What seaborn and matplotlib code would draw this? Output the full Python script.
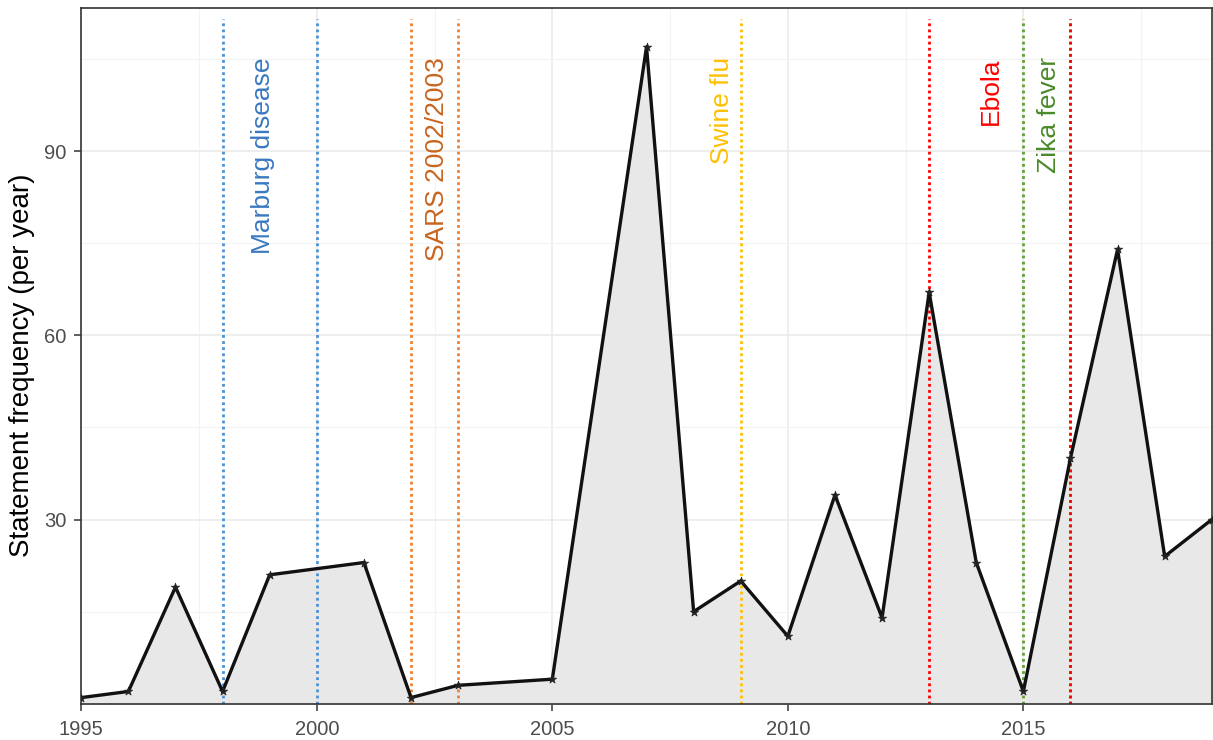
import matplotlib
matplotlib.use("Agg")
import matplotlib.pyplot as plt
import seaborn as sns
import pandas as pd
from matplotlib.ticker import MultipleLocator

years = [1995, 1996, 1997, 1998, 1999, 2001, 2002, 2003, 2005, 2007, 2008,
         2009, 2010, 2011, 2012, 2013, 2014, 2015, 2016, 2017, 2018, 2019]
counts = [1, 2, 19, 2, 21, 23, 1, 3, 4, 107, 15,
          20, 11, 34, 14, 67, 23, 2, 40, 74, 24, 30]

# outbreak markers: label, years, line colour, text colour, text x
event_labels = ['Marburg disease', 'SARS 2002/2003', 'Swine flu', 'Zika fever', 'Ebola']
event_years = [[1998, 2000], [2002, 2003], [2009], [2015, 2016], [2013, 2016]]
event_line_colors = ['#4a90d9', '#f08030', '#ffc000', '#5fa030', '#ff0000']
event_text_colors = ['#3a78c0', '#c8641e', '#ffc000', '#4a8a2a', '#ff0000']
event_text_x = [1998.85, 2002.55, 2008.6, 2015.55, 2014.3]

df = pd.DataFrame({'year': years, 'count': counts})

sns.set_style('white')
plt.rcParams['font.family'] = ['Liberation Sans', 'DejaVu Sans']

fig, ax = plt.subplots(figsize=(12.13, 7.4), dpi=100)
fig.subplots_adjust(left=0.067, right=0.999, top=0.989, bottom=0.049)

ax.fill_between(df['year'], 0, df['count'], color='#e8e8e8', zorder=1)
sns.lineplot(data=df, x='year', y='count', ax=ax, color='#111111',
             linewidth=2.4, zorder=3)
ax.scatter(df['year'], df['count'], marker='*', s=40, color='#222222',
           zorder=4, linewidths=0.5)

for i, (lab, yrs, lc, tc, tx) in enumerate(zip(event_labels, event_years,
                                               event_line_colors,
                                               event_text_colors,
                                               event_text_x)):
    for yr in yrs:
        ax.axvline(yr, ymin=0.0, ymax=0.985, color=lc, linestyle=(0, (1, 1.2)),
                   linewidth=2.0, zorder=2 + i * 0.01)
    ax.text(tx, 105.3, lab, rotation=90, va='top', ha='center', color=tc,
            fontsize=19, zorder=5)

ax.set_xlim(1995, 2019)
ax.set_ylim(0, 113.3)
ax.xaxis.set_major_locator(MultipleLocator(5))
ax.xaxis.set_minor_locator(MultipleLocator(2.5))
ax.yaxis.set_minor_locator(MultipleLocator(15))
ax.set_yticks([30, 60, 90])
ax.grid(which='major', color='#ebebeb', linewidth=1.2, zorder=0)
ax.grid(which='minor', color='#f3f3f3', linewidth=0.8, zorder=0)
ax.set_axisbelow(True)

for s in ax.spines.values():
    s.set_color('#333333')
    s.set_linewidth(1.2)

ax.tick_params(axis='both', which='major', length=5, width=1.1,
               color='#333333', labelsize=14.5, labelcolor='#4d4d4d',
               bottom=True, left=True)
ax.tick_params(axis='x', which='major', pad=7)
ax.tick_params(axis='y', which='major', pad=5.5)
ax.tick_params(which='minor', length=0)
ax.set_xlabel('')
ax.set_ylabel('Statement frequency (per year)', fontsize=20, color='black')
ax.yaxis.set_label_coords(-0.041, 0.487)

fig.savefig('out.png', dpi=100)
